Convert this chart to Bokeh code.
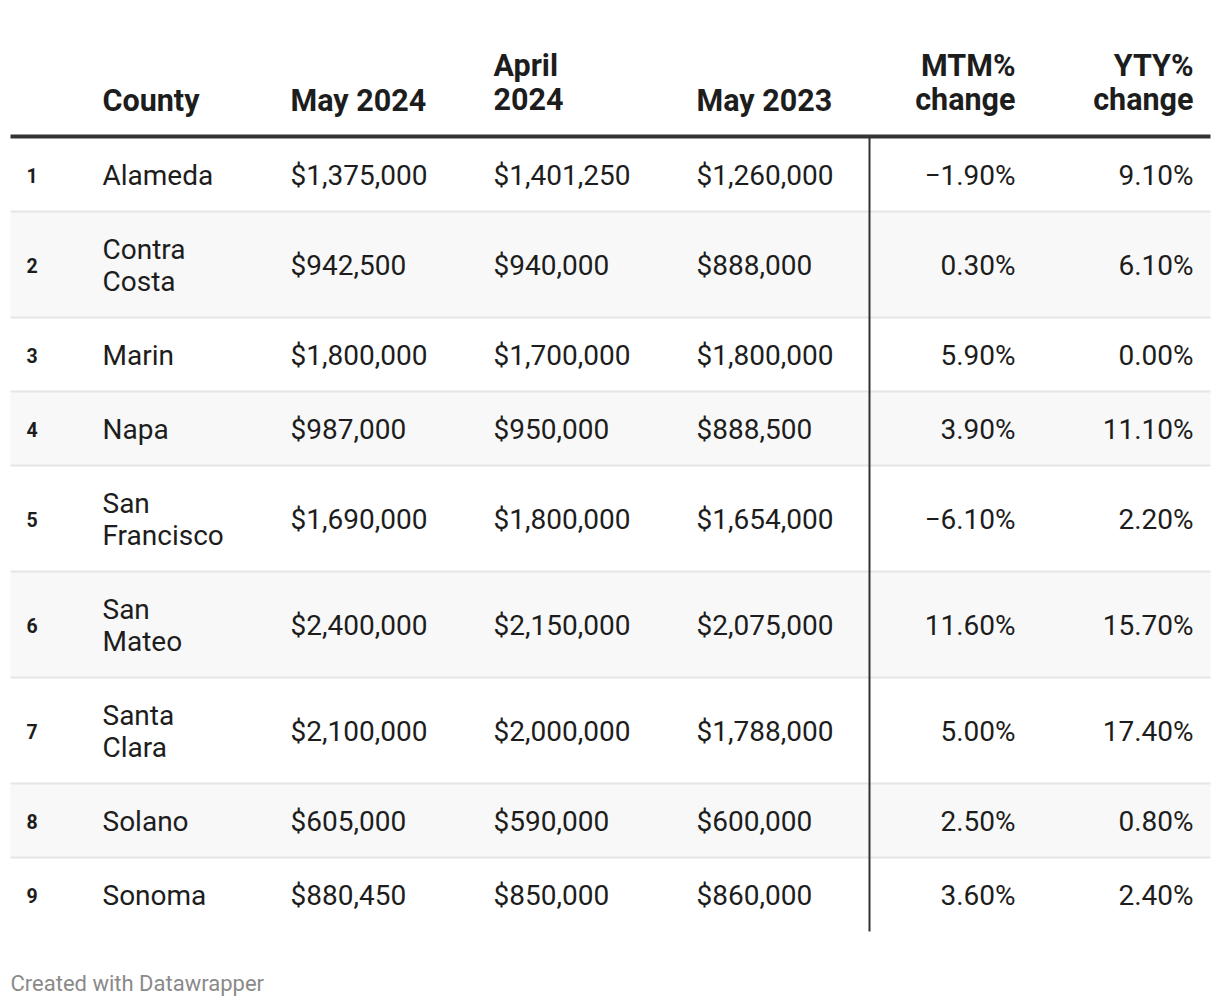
from bokeh.plotting import figure
from bokeh.models import Range1d
from bokeh.core.properties import value
from bokeh.embed import file_html
from bokeh.resources import INLINE

# ---- data ----
ranks = [1, 2, 3, 4, 5, 6, 7, 8, 9]
counties = ["Alameda", "Contra\nCosta", "Marin", "Napa", "San\nFrancisco",
            "San\nMateo", "Santa\nClara", "Solano", "Sonoma"]
may_2024 = [1375000, 942500, 1800000, 987000, 1690000, 2400000, 2100000, 605000, 880450]
april_2024 = [1401250, 940000, 1700000, 950000, 1800000, 2150000, 2000000, 590000, 850000]
may_2023 = [1260000, 888000, 1800000, 888500, 1654000, 2075000, 1788000, 600000, 860000]
mtm_change = [-1.9, 0.3, 5.9, 3.9, -6.1, 11.6, 5.0, 2.5, 3.6]
yty_change = [9.1, 6.1, 0.0, 11.1, 2.2, 15.7, 17.4, 0.8, 2.4]
headers = ["County", "May 2024", "April\n2024", "May 2023", "MTM%\nchange", "YTY%\nchange"]

FONT = "Roboto"
TXT = "#1d1d1d"


def money(v):
    return "${:,.0f}".format(v)


def pct(v):
    s = "{:.2f}%".format(abs(v))
    return ("\u2212" + s) if v < 0 else s


W, H = 1212, 998
p = figure(width=W, height=H, x_range=Range1d(0, W), y_range=Range1d(H, 0),
           output_backend="svg", toolbar_location=None, min_border=0)
p.axis.visible = False
p.grid.visible = False
p.outline_line_color = None
p.background_fill_color = "white"
p.border_fill_color = "white"

# layout
left, right = 10, 1210
top = 137
single_h, double_h = 74, 106
tops, bots = [], []
y = top
for c in counties:
    h = double_h if "\n" in c else single_h
    tops.append(y)
    bots.append(y + h)
    y += h
bottom = y
mids = [(a + b) / 2 for a, b in zip(tops, bots)]

# shading for even rows
sh_t = [tops[i] for i in range(len(ranks)) if i % 2 == 1]
sh_b = [bots[i] for i in range(len(ranks)) if i % 2 == 1]
p.quad(left=left, right=right, top=sh_t, bottom=sh_b, fill_color="#f8f8f8", line_color=None)
# separators
sep = tops[1:]
p.quad(left=left, right=right, top=[s - 1 for s in sep], bottom=[s + 1 for s in sep],
       fill_color="#e5e5e5", line_color=None)
# header rule
p.quad(left=left, right=right, top=134, bottom=138, fill_color="#333333", line_color=None)
# vertical rule
p.quad(left=868, right=870, top=137, bottom=bottom, fill_color="#333333", line_color=None)

# columns: (x, align)
col_x = [102, 290, 493, 696, 1015, 1193]
col_al = ["left", "left", "left", "left", "right", "right"]
body_cols = [counties,
             [money(v) for v in may_2024],
             [money(v) for v in april_2024],
             [money(v) for v in may_2023],
             [pct(v) for v in mtm_change],
             [pct(v) for v in yty_change]]

BODY = "28px"
HEAD = "30.5px"
for x, al, vals in zip(col_x, col_al, body_cols):
    p.text(x=[x] * len(vals), y=[m + 1 for m in mids], text=vals, text_font=value(FONT),
           text_font_size=BODY, text_color=TXT, text_align=al, text_baseline="middle",
           text_line_height=0.98)

p.text(x=[26] * len(ranks), y=[m + 1 for m in mids], text=[str(r) for r in ranks],
       text_font=value(FONT), text_font_size="19.5px", text_font_style="bold", text_color=TXT,
       text_align="left", text_baseline="middle")

for x, al, h in zip(col_x, col_al, headers):
    p.text(x=[x], y=[117], text=[h], text_font=value(FONT), text_font_size=HEAD,
           text_font_style="bold", text_color=TXT, text_align=al, text_baseline="bottom",
           text_line_height=0.98)

p.text(x=[10], y=[983], text=["Created with Datawrapper"], text_font=value(FONT),
       text_font_size="22px", text_color="#8a8a8a", text_align="left", text_baseline="middle")

open("out.html", "w").write(file_html(p, INLINE))
